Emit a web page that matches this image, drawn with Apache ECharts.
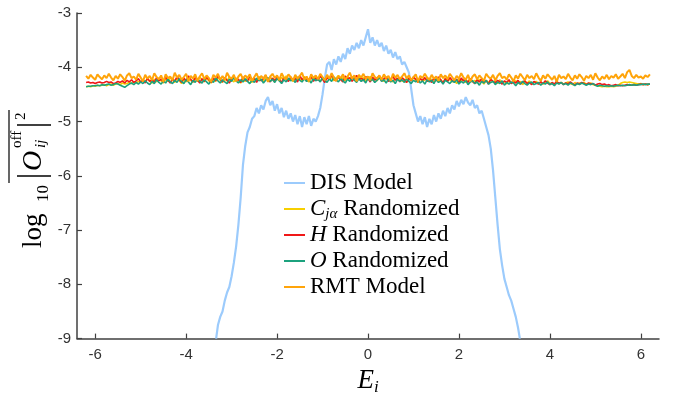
<!DOCTYPE html>
<html>
<head>
<meta charset="utf-8">
<script src="https://cdn.jsdelivr.net/npm/echarts@6/dist/echarts.min.js"></script>
<style>html,body{margin:0;padding:0;background:#fff}#c{width:679px;height:401px}</style>
</head>
<body>
<div id="c"></div>
<script>
// ---------------- DATA ----------------
const xTicks = [-6, -4, -2, 0, 2, 4, 6];
const yTicks = [-9, -8, -7, -6, -5, -4, -3];
const legendNames = ['DIS Model', 'Cjα Randomized', 'H Randomized', 'O Randomized', 'RMT Model'];

// DIS model curve
const disE = [-3.34,-3.30,-3.25,-3.20,-3.15,-3.10,-3.05,-3.00,-2.95,-2.90,-2.85,-2.80,-2.75,-2.70,-2.65,-2.60,-2.55,-2.50,-2.45,-2.40,-2.35,-2.30,-2.25,-2.20,-2.15,-2.10,-2.05,-2.00,-1.95,-1.90,-1.85,-1.80,-1.75,-1.70,-1.65,-1.60,-1.55,-1.50,-1.45,-1.40,-1.35,-1.30,-1.25,-1.20,-1.15,-1.10,-1.05,-1.00,-0.95,-0.90,-0.85,-0.80,-0.75,-0.70,-0.65,-0.60,-0.55,-0.50,-0.45,-0.40,-0.35,-0.30,-0.25,-0.20,-0.15,-0.10,-0.05,
0.00,0.05,0.10,0.15,0.20,0.25,0.30,0.35,0.40,0.45,0.50,0.55,0.60,0.65,0.70,0.75,0.80,0.85,0.90,0.95,1.00,1.05,1.10,1.15,1.20,1.25,1.30,1.35,1.40,1.45,1.50,1.55,1.60,1.65,1.70,1.75,1.80,1.85,1.90,1.95,2.00,2.05,2.10,2.15,2.20,2.25,2.30,2.35,2.40,2.45,2.50,2.55,2.60,2.65,2.70,2.75,2.80,2.85,2.90,2.95,3.00,3.05,3.10,3.15,3.20,3.25,3.30,3.34];
const disLog = [-9.00,-8.75,-8.60,-8.50,-8.30,-8.15,-8.05,-7.85,-7.60,-7.30,-6.90,-6.40,-5.80,-5.45,-5.20,-5.10,-4.95,-4.90,-4.75,-4.85,-4.70,-4.78,-4.62,-4.55,-4.70,-4.62,-4.80,-4.68,-4.85,-4.75,-4.92,-4.80,-4.95,-4.85,-5.00,-4.88,-5.05,-4.90,-5.10,-4.92,-5.05,-4.90,-5.08,-4.95,-5.00,-4.90,-4.75,-4.50,-4.20,-3.95,-3.90,-4.05,-3.85,-3.95,-3.80,-3.90,-3.75,-3.85,-3.65,-3.75,-3.60,-3.68,-3.55,-3.65,-3.50,-3.60,-3.45,
-3.30,-3.55,-3.45,-3.60,-3.50,-3.62,-3.55,-3.70,-3.60,-3.75,-3.68,-3.82,-3.72,-3.85,-3.80,-3.95,-3.90,-4.00,-4.10,-4.40,-4.70,-4.85,-5.00,-4.90,-5.05,-4.92,-5.10,-4.95,-5.05,-4.88,-5.00,-4.85,-4.95,-4.80,-4.90,-4.75,-4.85,-4.70,-4.78,-4.62,-4.72,-4.60,-4.68,-4.55,-4.65,-4.70,-4.60,-4.75,-4.70,-4.85,-4.80,-4.95,-5.10,-5.25,-5.50,-5.90,-6.40,-6.90,-7.35,-7.65,-7.90,-8.05,-8.20,-8.30,-8.45,-8.60,-8.80,-9.00];

// Energy grid for the randomized / RMT series
const energy = [
-6.20,-6.15,-6.10,-6.05,-6.00,-5.95,-5.90,-5.85,-5.80,-5.75,
-5.70,-5.65,-5.60,-5.55,-5.50,-5.45,-5.40,-5.35,-5.30,-5.25,
-5.20,-5.15,-5.10,-5.05,-5.00,-4.95,-4.90,-4.85,-4.80,-4.75,
-4.70,-4.65,-4.60,-4.55,-4.50,-4.45,-4.40,-4.35,-4.30,-4.25,
-4.20,-4.15,-4.10,-4.05,-4.00,-3.95,-3.90,-3.85,-3.80,-3.75,
-3.70,-3.65,-3.60,-3.55,-3.50,-3.45,-3.40,-3.35,-3.30,-3.25,
-3.20,-3.15,-3.10,-3.05,-3.00,-2.95,-2.90,-2.85,-2.80,-2.75,
-2.70,-2.65,-2.60,-2.55,-2.50,-2.45,-2.40,-2.35,-2.30,-2.25,
-2.20,-2.15,-2.10,-2.05,-2.00,-1.95,-1.90,-1.85,-1.80,-1.75,
-1.70,-1.65,-1.60,-1.55,-1.50,-1.45,-1.40,-1.35,-1.30,-1.25,
-1.20,-1.15,-1.10,-1.05,-1.00,-0.95,-0.90,-0.85,-0.80,-0.75,
-0.70,-0.65,-0.60,-0.55,-0.50,-0.45,-0.40,-0.35,-0.30,-0.25,
-0.20,-0.15,-0.10,-0.05,0.00,0.05,0.10,0.15,0.20,0.25,
0.30,0.35,0.40,0.45,0.50,0.55,0.60,0.65,0.70,0.75,
0.80,0.85,0.90,0.95,1.00,1.05,1.10,1.15,1.20,1.25,
1.30,1.35,1.40,1.45,1.50,1.55,1.60,1.65,1.70,1.75,
1.80,1.85,1.90,1.95,2.00,2.05,2.10,2.15,2.20,2.25,
2.30,2.35,2.40,2.45,2.50,2.55,2.60,2.65,2.70,2.75,
2.80,2.85,2.90,2.95,3.00,3.05,3.10,3.15,3.20,3.25,
3.30,3.35,3.40,3.45,3.50,3.55,3.60,3.65,3.70,3.75,
3.80,3.85,3.90,3.95,4.00,4.05,4.10,4.15,4.20,4.25,
4.30,4.35,4.40,4.45,4.50,4.55,4.60,4.65,4.70,4.75,
4.80,4.85,4.90,4.95,5.00,5.05,5.10,5.15,5.20,5.25,
5.30,5.35,5.40,5.45,5.50,5.55,5.60,5.65,5.70,5.75,
5.80,5.85,5.90,5.95,6.00,6.05,6.10,6.15,6.20];

const cjaLog = [
-4.36,-4.35,-4.36,-4.34,-4.35,-4.33,-4.34,-4.33,-4.32,-4.34,
-4.32,-4.31,-4.33,-4.31,-4.30,-4.32,-4.29,-4.31,-4.30,-4.28,
-4.30,-4.27,-4.29,-4.26,-4.28,-4.23,-4.27,-4.21,-4.26,-4.29,
-4.22,-4.27,-4.20,-4.25,-4.29,-4.22,-4.26,-4.19,-4.24,-4.28,
-4.21,-4.25,-4.30,-4.23,-4.27,-4.19,-4.24,-4.28,-4.21,-4.26,
-4.18,-4.23,-4.27,-4.20,-4.25,-4.29,-4.22,-4.26,-4.19,-4.24,
-4.28,-4.21,-4.25,-4.18,-4.23,-4.27,-4.20,-4.24,-4.29,-4.22,
-4.26,-4.19,-4.23,-4.28,-4.21,-4.25,-4.17,-4.22,-4.26,-4.20,
-4.24,-4.18,-4.23,-4.27,-4.20,-4.25,-4.19,-4.22,-4.16,-4.24,
-4.21,-4.26,-4.18,-4.23,-4.20,-4.25,-4.17,-4.22,-4.27,-4.19,
-4.23,-4.17,-4.21,-4.26,-4.19,-4.24,-4.16,-4.22,-4.18,-4.25,
-4.20,-4.15,-4.23,-4.19,-4.25,-4.17,-4.22,-4.18,-4.24,-4.20,
-4.16,-4.23,-4.19,-4.26,-4.21,-4.17,-4.24,-4.20,-4.25,-4.18,
-4.22,-4.26,-4.19,-4.24,-4.21,-4.27,-4.18,-4.23,-4.20,-4.26,
-4.22,-4.28,-4.20,-4.25,-4.19,-4.24,-4.28,-4.21,-4.26,-4.23,
-4.19,-4.25,-4.22,-4.28,-4.21,-4.26,-4.23,-4.29,-4.20,-4.25,
-4.22,-4.27,-4.24,-4.30,-4.21,-4.26,-4.23,-4.28,-4.25,-4.22,
-4.27,-4.24,-4.29,-4.22,-4.26,-4.31,-4.24,-4.28,-4.23,-4.27,
-4.25,-4.30,-4.23,-4.28,-4.26,-4.31,-4.24,-4.29,-4.27,-4.25,
-4.30,-4.26,-4.32,-4.27,-4.29,-4.25,-4.31,-4.28,-4.26,-4.30,
-4.27,-4.31,-4.28,-4.25,-4.30,-4.29,-4.32,-4.27,-4.30,-4.28,
-4.31,-4.29,-4.27,-4.30,-4.32,-4.28,-4.31,-4.29,-4.30,-4.28,
-4.31,-4.30,-4.29,-4.32,-4.33,-4.34,-4.35,-4.36,-4.35,-4.36,
-4.36,-4.35,-4.36,-4.35,-4.33,-4.30,-4.28,-4.27,-4.28,-4.27,
-4.28,-4.29,-4.30,-4.31,-4.30,-4.32,-4.31,-4.32,-4.31];

const hLog = [
-4.28,-4.27,-4.29,-4.28,-4.30,-4.28,-4.27,-4.29,-4.28,-4.26,
-4.28,-4.27,-4.30,-4.29,-4.26,-4.28,-4.25,-4.29,-4.24,-4.27,
-4.23,-4.28,-4.25,-4.21,-4.27,-4.24,-4.29,-4.20,-4.26,-4.23,
-4.28,-4.19,-4.25,-4.22,-4.27,-4.18,-4.24,-4.29,-4.21,-4.26,
-4.17,-4.23,-4.28,-4.20,-4.25,-4.16,-4.22,-4.27,-4.19,-4.24,
-4.29,-4.21,-4.26,-4.18,-4.23,-4.28,-4.20,-4.25,-4.15,-4.22,
-4.27,-4.19,-4.24,-4.29,-4.21,-4.17,-4.25,-4.22,-4.28,-4.18,
-4.23,-4.26,-4.16,-4.24,-4.20,-4.28,-4.19,-4.25,-4.21,-4.15,
-4.24,-4.27,-4.20,-4.25,-4.17,-4.23,-4.28,-4.19,-4.22,-4.26,
-4.18,-4.24,-4.21,-4.27,-4.15,-4.23,-4.19,-4.25,-4.22,-4.17,
-4.26,-4.20,-4.24,-4.16,-4.22,-4.28,-4.19,-4.23,-4.14,-4.21,
-4.25,-4.18,-4.23,-4.27,-4.16,-4.22,-4.19,-4.26,-4.20,-4.15,
-4.23,-4.19,-4.25,-4.17,-4.21,-4.27,-4.18,-4.24,-4.20,-4.16,
-4.25,-4.21,-4.18,-4.26,-4.22,-4.17,-4.24,-4.20,-4.27,-4.19,
-4.23,-4.28,-4.20,-4.25,-4.18,-4.22,-4.27,-4.21,-4.24,-4.19,
-4.26,-4.22,-4.28,-4.20,-4.25,-4.18,-4.23,-4.29,-4.21,-4.26,
-4.19,-4.24,-4.27,-4.22,-4.29,-4.20,-4.25,-4.23,-4.28,-4.21,
-4.26,-4.30,-4.23,-4.27,-4.21,-4.28,-4.24,-4.31,-4.22,-4.26,
-4.29,-4.24,-4.27,-4.31,-4.25,-4.28,-4.23,-4.30,-4.26,-4.29,
-4.24,-4.31,-4.27,-4.25,-4.30,-4.28,-4.32,-4.26,-4.29,-4.31,
-4.27,-4.30,-4.25,-4.29,-4.32,-4.28,-4.31,-4.26,-4.30,-4.28,
-4.32,-4.29,-4.31,-4.27,-4.30,-4.33,-4.29,-4.31,-4.28,-4.30,
-4.32,-4.29,-4.31,-4.30,-4.33,-4.31,-4.30,-4.32,-4.31,-4.33,
-4.32,-4.34,-4.33,-4.32,-4.34,-4.33,-4.34,-4.33,-4.32,-4.33,
-4.33,-4.32,-4.33,-4.32,-4.31,-4.32,-4.31,-4.32,-4.31];

const oLog = [
-4.36,-4.35,-4.35,-4.34,-4.34,-4.33,-4.34,-4.32,-4.33,-4.32,
-4.31,-4.33,-4.32,-4.30,-4.31,-4.33,-4.35,-4.37,-4.34,-4.31,
-4.29,-4.32,-4.28,-4.31,-4.27,-4.30,-4.25,-4.29,-4.32,-4.26,
-4.30,-4.23,-4.28,-4.31,-4.25,-4.29,-4.22,-4.27,-4.30,-4.24,
-4.28,-4.21,-4.26,-4.30,-4.23,-4.27,-4.32,-4.24,-4.28,-4.21,
-4.26,-4.29,-4.22,-4.27,-4.31,-4.24,-4.28,-4.20,-4.25,-4.29,
-4.23,-4.27,-4.30,-4.22,-4.26,-4.19,-4.25,-4.29,-4.23,-4.27,
-4.21,-4.26,-4.30,-4.24,-4.28,-4.20,-4.25,-4.22,-4.29,-4.24,
-4.19,-4.26,-4.22,-4.28,-4.21,-4.25,-4.30,-4.23,-4.27,-4.20,
-4.25,-4.22,-4.28,-4.18,-4.24,-4.27,-4.21,-4.26,-4.23,-4.29,
-4.20,-4.25,-4.22,-4.27,-4.19,-4.24,-4.28,-4.21,-4.26,-4.18,
-4.23,-4.27,-4.20,-4.25,-4.29,-4.22,-4.26,-4.19,-4.24,-4.28,
-4.21,-4.26,-4.23,-4.29,-4.20,-4.25,-4.22,-4.28,-4.24,-4.19,
-4.26,-4.23,-4.29,-4.21,-4.27,-4.24,-4.30,-4.22,-4.26,-4.23,
-4.28,-4.21,-4.26,-4.30,-4.24,-4.27,-4.22,-4.29,-4.25,-4.31,
-4.23,-4.27,-4.24,-4.30,-4.22,-4.28,-4.25,-4.31,-4.24,-4.27,
-4.30,-4.25,-4.28,-4.23,-4.31,-4.26,-4.29,-4.24,-4.32,-4.27,
-4.25,-4.30,-4.27,-4.33,-4.26,-4.29,-4.24,-4.31,-4.28,-4.26,
-4.32,-4.27,-4.30,-4.25,-4.33,-4.28,-4.31,-4.27,-4.29,-4.34,
-4.28,-4.31,-4.26,-4.30,-4.33,-4.29,-4.27,-4.32,-4.30,-4.28,
-4.33,-4.29,-4.31,-4.27,-4.32,-4.30,-4.34,-4.29,-4.31,-4.28,
-4.32,-4.30,-4.33,-4.29,-4.31,-4.34,-4.30,-4.32,-4.29,-4.31,
-4.33,-4.31,-4.32,-4.30,-4.33,-4.35,-4.33,-4.34,-4.35,-4.34,
-4.35,-4.34,-4.35,-4.34,-4.33,-4.34,-4.33,-4.34,-4.33,-4.32,
-4.33,-4.32,-4.33,-4.32,-4.32,-4.31,-4.32,-4.31,-4.31];

const rmtLog = [
-4.16,-4.21,-4.14,-4.19,-4.23,-4.13,-4.18,-4.22,-4.15,-4.20,
-4.12,-4.19,-4.24,-4.16,-4.21,-4.13,-4.18,-4.25,-4.15,-4.11,
-4.20,-4.17,-4.23,-4.12,-4.19,-4.26,-4.14,-4.21,-4.16,-4.24,
-4.11,-4.18,-4.22,-4.15,-4.27,-4.13,-4.20,-4.17,-4.24,-4.10,
-4.19,-4.14,-4.23,-4.18,-4.12,-4.26,-4.16,-4.21,-4.13,-4.25,
-4.17,-4.11,-4.22,-4.15,-4.20,-4.27,-4.14,-4.19,-4.12,-4.23,
-4.16,-4.24,-4.10,-4.18,-4.21,-4.14,-4.26,-4.17,-4.12,-4.22,
-4.15,-4.20,-4.13,-4.25,-4.18,-4.11,-4.23,-4.16,-4.21,-4.14,
-4.27,-4.17,-4.12,-4.20,-4.15,-4.24,-4.11,-4.19,-4.22,-4.13,
-4.18,-4.25,-4.14,-4.21,-4.16,-4.10,-4.23,-4.17,-4.26,-4.13,
-4.20,-4.15,-4.22,-4.12,-4.18,-4.24,-4.14,-4.21,-4.11,-4.19,
-4.25,-4.16,-4.20,-4.13,-4.23,-4.17,-4.10,-4.21,-4.15,-4.26,
-4.14,-4.19,-4.12,-4.22,-4.17,-4.24,-4.11,-4.18,-4.21,-4.15,
-4.23,-4.13,-4.20,-4.16,-4.25,-4.12,-4.19,-4.14,-4.22,-4.17,
-4.11,-4.21,-4.15,-4.24,-4.18,-4.13,-4.26,-4.16,-4.20,-4.12,
-4.19,-4.23,-4.14,-4.21,-4.17,-4.25,-4.13,-4.20,-4.15,-4.22,
-4.12,-4.18,-4.24,-4.16,-4.21,-4.11,-4.19,-4.23,-4.14,-4.26,
-4.17,-4.13,-4.22,-4.15,-4.20,-4.25,-4.12,-4.18,-4.21,-4.14,
-4.24,-4.16,-4.11,-4.20,-4.17,-4.23,-4.13,-4.19,-4.26,-4.15,
-4.21,-4.12,-4.18,-4.24,-4.14,-4.20,-4.16,-4.22,-4.11,-4.19,
-4.25,-4.15,-4.21,-4.13,-4.18,-4.23,-4.16,-4.27,-4.14,-4.20,
-4.17,-4.22,-4.12,-4.19,-4.24,-4.15,-4.21,-4.13,-4.18,-4.25,
-4.16,-4.20,-4.14,-4.23,-4.11,-4.19,-4.24,-4.17,-4.21,-4.14,
-4.22,-4.16,-4.19,-4.13,-4.21,-4.17,-4.12,-4.20,-4.09,-4.05,
-4.16,-4.20,-4.14,-4.19,-4.17,-4.21,-4.15,-4.18,-4.13];

// ---------------- CHART ----------------
const colors = ['#9ccbfc', '#f7cf00', '#f01818', '#1ca27e', '#ffa40a'];
const widths = [2.2, 1.6, 1.6, 1.6, 2.0];
const axisColor = '#404040';
const serif = '"Liberation Serif", "DejaVu Serif", serif';
const chart = echarts.init(document.getElementById('c'), null, {renderer: 'canvas'});

function pairs(xs, ys) { return xs.map((x, i) => [x, ys[i]]); }

const legendRich = {
  it: {fontFamily: serif, fontStyle: 'italic', fontSize: 23, color: '#000', lineHeight: 26},
  rm: {fontFamily: serif, fontSize: 23, color: '#000', lineHeight: 26},
  sub: {fontFamily: serif, fontStyle: 'italic', fontSize: 15, color: '#000', lineHeight: 16, verticalAlign: 'bottom'}
};
const legendFmt = {
  'DIS Model': '{rm|DIS Model}',
  'Cjα Randomized': '{it|C}{sub|jα}{rm| Randomized}',
  'H Randomized': '{it|H}{rm| Randomized}',
  'O Randomized': '{it|O}{rm| Randomized}',
  'RMT Model': '{rm|RMT Model}'
};

const seriesData = [
  pairs(disE, disLog),
  pairs(energy, cjaLog),
  pairs(energy, hLog),
  pairs(energy, oLog),
  pairs(energy, rmtLog)
];

chart.setOption({
  animation: false,
  backgroundColor: '#fff',
  grid: {left: 77, right: 20, top: 13, bottom: 58, containLabel: false},
  xAxis: {
    type: 'value', min: -6.4, max: 6.4,
    axisLine: {show: true, onZero: false, lineStyle: {color: axisColor, width: 1.5}},
    axisTick: {show: true, inside: true, length: 5, customValues: xTicks, lineStyle: {color: axisColor, width: 1.2}},
    axisLabel: {customValues: xTicks, color: '#333', fontSize: 15, fontFamily: 'Liberation Sans, Arial, sans-serif', margin: 9},
    splitLine: {show: false},
    name: '{e|E}{s|i}',
    nameLocation: 'middle', nameGap: 26,
    nameTextStyle: {
      rich: {
        e: {fontFamily: serif, fontStyle: 'italic', fontSize: 27, color: '#000', lineHeight: 30},
        s: {fontFamily: serif, fontStyle: 'italic', fontSize: 17, color: '#000', lineHeight: 18, verticalAlign: 'bottom'}
      }
    }
  },
  yAxis: {
    type: 'value', min: -9, max: -3, interval: 1,
    axisLine: {show: true, onZero: false, lineStyle: {color: axisColor, width: 1.5}},
    axisTick: {show: true, inside: true, length: 5, lineStyle: {color: axisColor, width: 1.2}},
    axisLabel: {color: '#333', fontSize: 15, fontFamily: 'Liberation Sans, Arial, sans-serif', margin: 6},
    splitLine: {show: false}
  },
  legend: {
    orient: 'vertical', left: 284, top: 170, padding: 0,
    icon: 'rect', itemWidth: 21, itemHeight: 2, itemGap: 0,
    data: legendNames,
    formatter: name => legendFmt[name],
    textStyle: {fontFamily: serif, fontSize: 23, color: '#000', lineHeight: 26, rich: legendRich}
  },
  series: legendNames.map((n, i) => ({
    name: n, type: 'line', data: seriesData[i],
    showSymbol: false, symbol: 'none', clip: true,
    color: colors[i],
    lineStyle: {color: colors[i], width: widths[i]},
    z: 2 + i
  })),
  graphic: [{
    type: 'group', x: 34, y: 178, rotation: Math.PI / 2,
    children: [
      {type: 'text', x: -70, y: 0, style: {text: 'log', font: '27px ' + serif, fill: '#000', align: 'left', verticalAlign: 'middle'}},
      {type: 'text', x: -24, y: 10, style: {text: '10', font: '17px ' + serif, fill: '#000', align: 'left', verticalAlign: 'middle'}},
      {type: 'line', shape: {x1: 2, y1: -17, x2: 2, y2: 17}, style: {stroke: '#000', lineWidth: 1.3}},
      {type: 'text', x: 7, y: 0, style: {text: 'O', font: 'italic 28px ' + serif, fill: '#000', align: 'left', verticalAlign: 'middle'}},
      {type: 'text', x: 30, y: -17, style: {text: 'off', font: '15px ' + serif, fill: '#000', align: 'left', verticalAlign: 'middle'}},
      {type: 'text', x: 30, y: 7, style: {text: 'ij', font: 'italic 15px ' + serif, fill: '#000', align: 'left', verticalAlign: 'middle'}},
      {type: 'line', shape: {x1: 53, y1: -17, x2: 53, y2: 17}, style: {stroke: '#000', lineWidth: 1.3}},
      {type: 'text', x: 58, y: -13, style: {text: '2', font: '15px ' + serif, fill: '#000', align: 'left', verticalAlign: 'middle'}},
      {type: 'line', shape: {x1: -5, y1: -25, x2: 68, y2: -25}, style: {stroke: '#000', lineWidth: 1.2}}
    ]
  }]
});
</script>
</body>
</html>
